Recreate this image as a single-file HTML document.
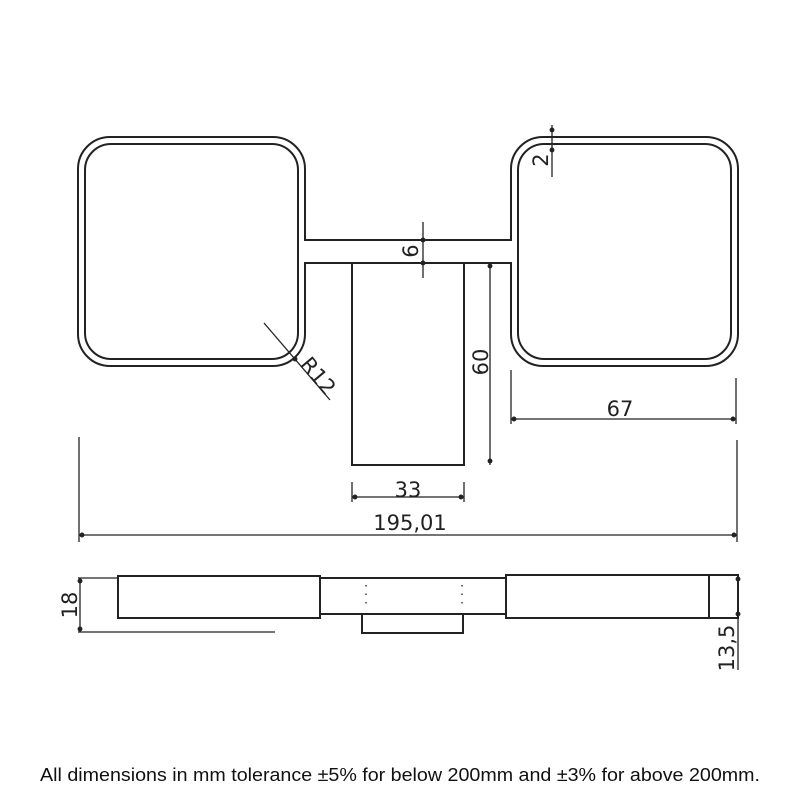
<!DOCTYPE html>
<html><head><style>html,body{margin:0;padding:0;background:#fff}svg{display:block}</style></head>
<body>
<svg width="800" height="800" viewBox="0 0 800 800" xmlns="http://www.w3.org/2000/svg">
<g fill="none" stroke="#222" stroke-width="2">
<rect x="78" y="137" width="227" height="229" rx="32"/>
<rect x="85" y="144" width="213" height="215" rx="26"/>
<rect x="511" y="137" width="227" height="229" rx="32"/>
<rect x="518" y="144" width="213" height="215" rx="26"/>
</g>
<rect x="302" y="241" width="6" height="21" fill="#fff"/>
<rect x="508" y="241" width="6" height="21" fill="#fff"/>
<g fill="none" stroke="#222" stroke-width="2">
<line x1="305" y1="240" x2="511" y2="240"/>
<line x1="305" y1="263" x2="511" y2="263"/>
<rect x="352" y="263" width="112" height="202"/>
</g>
<g stroke="#222" stroke-width="1.3" fill="#222">
<line x1="423" y1="222" x2="423" y2="278"/>
<circle cx="423" cy="240" r="1.8"/><circle cx="423" cy="263" r="1.8"/>
<line x1="552" y1="125" x2="552" y2="177"/>
<circle cx="552" cy="130" r="1.8"/><circle cx="552" cy="150" r="1.8"/>
<line x1="490" y1="263" x2="490" y2="465"/>
<circle cx="490" cy="266" r="1.8"/><circle cx="490" cy="461" r="1.8"/>
<line x1="264" y1="323" x2="330" y2="400"/>
<circle cx="295" cy="359" r="1.8"/>
<line x1="511" y1="370" x2="511" y2="424"/>
<line x1="736" y1="378" x2="736" y2="424"/>
<line x1="511" y1="419" x2="736" y2="419"/>
<circle cx="514" cy="419" r="1.8"/><circle cx="733" cy="419" r="1.8"/>
<line x1="352" y1="482" x2="352" y2="502"/>
<line x1="464" y1="482" x2="464" y2="502"/>
<line x1="352" y1="497" x2="464" y2="497"/>
<circle cx="355" cy="497" r="1.8"/><circle cx="461" cy="497" r="1.8"/>
<line x1="79" y1="437" x2="79" y2="542"/>
<line x1="737" y1="440" x2="737" y2="542"/>
<line x1="79" y1="535" x2="737" y2="535"/>
<circle cx="82" cy="535" r="1.8"/><circle cx="734" cy="535" r="1.8"/>
</g>
<g font-family="'DejaVu Sans','Liberation Sans',sans-serif" font-size="21" fill="#222">
<text transform="translate(411,251) rotate(-90)" text-anchor="middle" dominant-baseline="central">6</text>
<text transform="translate(541,160) rotate(-90)" text-anchor="middle" dominant-baseline="central">2</text>
<text transform="translate(481,362) rotate(-90)" text-anchor="middle" dominant-baseline="central">60</text>
<text transform="translate(318,376) rotate(50)" text-anchor="middle" dominant-baseline="central">R12</text>
<text x="620" y="416" text-anchor="middle">67</text>
<text x="408" y="497" text-anchor="middle">33</text>
<text x="410" y="530" text-anchor="middle">195,01</text>
<text transform="translate(70,605) rotate(-90)" text-anchor="middle" dominant-baseline="central">18</text>
<text transform="translate(727,648) rotate(-90)" text-anchor="middle" dominant-baseline="central">13,5</text>
</g>
<g fill="none" stroke="#222" stroke-width="2">
<rect x="118" y="576" width="202" height="42"/>
<line x1="320" y1="578" x2="506" y2="578"/>
<line x1="320" y1="614" x2="506" y2="614"/>
<rect x="506" y="575" width="232" height="43"/>
<line x1="709" y1="575" x2="709" y2="618"/>
<polyline points="362,614 362,633 463,633 463,614"/>
</g>
<g stroke="#222" stroke-width="1.3" fill="#222">
<line x1="78" y1="578" x2="118" y2="578"/>
<line x1="78" y1="632" x2="275" y2="632"/>
<line x1="80" y1="578" x2="80" y2="632"/>
<circle cx="80" cy="581" r="1.8"/><circle cx="80" cy="629" r="1.8"/>
<line x1="738" y1="575" x2="738" y2="670"/>
<circle cx="738" cy="579" r="1.8"/><circle cx="738" cy="614" r="1.8"/>
<line x1="366" y1="585" x2="366" y2="607" stroke-dasharray="1.5 7"/>
<line x1="462" y1="585" x2="462" y2="607" stroke-dasharray="1.5 7"/>
</g>
<text x="40" y="781" font-family="'Liberation Sans',sans-serif" font-size="18" fill="#111" textLength="720" lengthAdjust="spacingAndGlyphs">All dimensions in mm tolerance ±5% for below 200mm and ±3% for above 200mm.</text>
</svg>
</body></html>
